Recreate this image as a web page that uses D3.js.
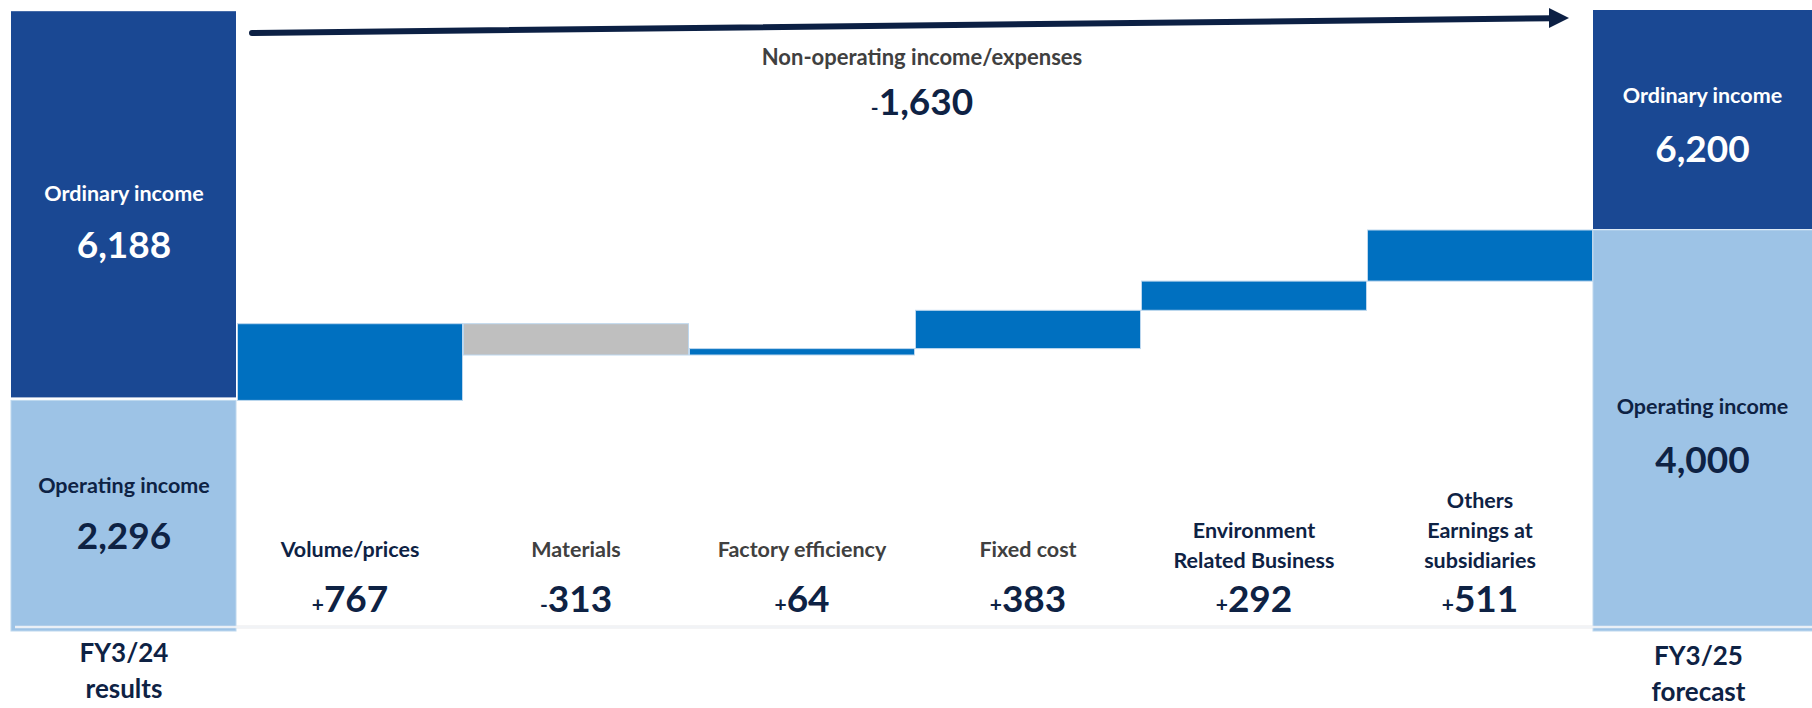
<!DOCTYPE html>
<html>
<head>
<meta charset="utf-8">
<script src="https://cdn.jsdelivr.net/npm/d3@7"></script>
<style>
  html, body { margin: 0; padding: 0; background: #ffffff; }
  svg { display: block; font-family: Lato, "Open Sans", "Liberation Sans", sans-serif; font-weight: 700; }
</style>
</head>
<body>
<svg id="chart" width="1812" height="708"></svg>
<script>
// ---- data ----
const periods = ["FY3/24 results", "FY3/25 forecast"];
const operatingIncome = [2296, 4000];
const ordinaryIncome = [6188, 6200];

const stepNames = [
  ["Volume/prices"],
  ["Materials"],
  ["Factory efficiency"],
  ["Fixed cost"],
  ["Environment", "Related Business"],
  ["Others", "Earnings at", "subsidiaries"]
];
const stepValues = [767, -313, 64, 383, 292, 511];

const nonOperatingLabel = "Non-operating income/expenses";
const nonOperatingValue = -1630;

// ---- styling ----
const C = {
  dark: "#1a4893",
  light: "#9dc3e6",
  up: "#0070c0",
  down: "#bfbfbf",
  edge: "#bdd7ee",
  navy: "#0e2244",
  grey: "#404040",
  arrow: "#0c2044",
  base: "#ececec"
};
const mutedSteps = new Set(["Materials", "Factory efficiency", "Fixed cost"]);

const W = 1812, H = 708;
const svg = d3.select("#chart");

// one band per column: start total, six drivers, end total
const columns = ["start", ...stepNames.map(d => d.join(" ")), "end"];
const x = d3.scaleBand().domain(columns).range([11, 11 + 226 * columns.length]).padding(0);
const y = d3.scaleLinear().domain([0, 4000]).range([630, 230]);

const fmt = d3.format(",");
const cx = k => {
  const x0 = x(k), x1 = Math.min(x0 + x.bandwidth(), W);
  return (x0 + x1) / 2;
};

// waterfall segments
let run = operatingIncome[0];
const steps = stepValues.map((v, i) => {
  const s = { key: columns[i + 1], lines: stepNames[i], value: v, from: run, to: run + v };
  run += v;
  return s;
});

// baseline rule
svg.append("line")
  .attr("x1", 15).attr("x2", W)
  .attr("y1", y(0) - 3).attr("y2", y(0) - 3)
  .attr("stroke", C.base).attr("stroke-width", 3);

// totals: operating (light) and ordinary (dark)
const totals = periods.map((p, i) => ({
  key: i === 0 ? "start" : "end",
  label: p.split(" "),
  op: operatingIncome[i],
  ord: ordinaryIncome[i]
}));

const gT = svg.append("g");
gT.selectAll("rect.op").data(totals).join("rect")
  .attr("class", "op")
  .attr("x", d => x(d.key))
  .attr("width", x.bandwidth() - 1)
  .attr("y", d => y(d.op))
  .attr("height", d => y(0) - y(d.op) + 1)
  .attr("fill", C.light)
  .attr("stroke", C.edge).attr("stroke-width", 1);

gT.selectAll("rect.ord").data(totals).join("rect")
  .attr("class", "ord")
  .attr("x", d => x(d.key))
  .attr("width", x.bandwidth() - 1)
  .attr("y", d => y(d.ord))
  .attr("height", d => y(d.op) - y(d.ord) - (d.key === "start" ? 3 : 1))
  .attr("fill", C.dark);

// the rule shows through the light bars
svg.append("line")
  .attr("x1", 15).attr("x2", W)
  .attr("y1", y(0) - 3).attr("y2", y(0) - 3)
  .attr("stroke", "#f2f4f7").attr("stroke-width", 2.5)
  .attr("stroke-opacity", 0.9);

// driver bars
svg.append("g").selectAll("rect").data(steps).join("rect")
  .attr("x", d => x(d.key) + 0.5)
  .attr("width", x.bandwidth() - 1)
  .attr("y", d => y(Math.max(d.from, d.to)))
  .attr("height", d => Math.abs(y(d.from) - y(d.to)))
  .attr("fill", d => d.value >= 0 ? C.up : C.down)
  .attr("stroke", C.edge).attr("stroke-width", 1);

// total labels
const totalText = [
  { key: "start", ordY: 201, ordNumY: 258, opY: 493, opNumY: 549, yearY: [662, 698] },
  { key: "end",   ordY: 103, ordNumY: 162, opY: 414, opNumY: 473, yearY: [665, 701] }
];
totals.forEach((t, i) => {
  const L = totalText[i];
  const g = svg.append("g").attr("text-anchor", "middle");
  const mx = cx(t.key);
  g.append("text").attr("x", mx).attr("y", L.ordY).attr("fill", "#ffffff")
    .attr("font-size", 21.5).text("Ordinary income");
  g.append("text").attr("x", mx).attr("y", L.ordNumY).attr("fill", "#ffffff")
    .attr("font-size", 37).text(fmt(t.ord));
  g.append("text").attr("x", mx).attr("y", L.opY).attr("fill", C.navy)
    .attr("font-size", 21.5).text("Operating income");
  g.append("text").attr("x", mx).attr("y", L.opNumY).attr("fill", C.navy)
    .attr("font-size", 37).text(fmt(t.op));
  t.label.forEach((line, j) => {
    g.append("text").attr("x", mx - (i === 1 ? 4 : 0)).attr("y", L.yearY[j]).attr("fill", C.navy)
      .attr("font-size", 26).text(line);
  });
});

// driver labels
const gL = svg.append("g").attr("text-anchor", "middle");
steps.forEach(s => {
  const mx = cx(s.key);
  const n = s.lines.length;
  const color = mutedSteps.has(s.key) ? C.grey : C.navy;
  s.lines.forEach((line, j) => {
    const baseY = n === 1 ? 557 : 568 - (n - 1 - j) * 30;
    gL.append("text").attr("x", mx).attr("y", baseY)
      .attr("fill", color).attr("font-size", 21.5).text(line);
  });
  const t = gL.append("text").attr("x", mx).attr("y", 612).attr("fill", C.navy);
  t.append("tspan").attr("font-size", 21).text(s.value >= 0 ? "+" : "-");
  t.append("tspan").attr("font-size", 37).text(fmt(Math.abs(s.value)));
});

// overall arrow across the drivers
const ax0 = x(columns[1]) + 15, ax1 = x("end") - 24;
const ay0 = 33, ay1 = 18;
svg.append("line")
  .attr("x1", ax0).attr("y1", ay0).attr("x2", ax1 - 16).attr("y2", ay1 + 0.2)
  .attr("stroke", C.arrow).attr("stroke-width", 6).attr("stroke-linecap", "round");
svg.append("path")
  .attr("d", `M${ax1 - 20},${ay1 - 10} L${ax1},${ay1} L${ax1 - 20},${ay1 + 10} Z`)
  .attr("fill", C.arrow);

// non-operating note
const nx = 922;
svg.append("text").attr("x", nx).attr("y", 65).attr("text-anchor", "middle")
  .attr("fill", C.grey).attr("font-size", 22).text(nonOperatingLabel);
const nt = svg.append("text").attr("x", nx).attr("y", 115).attr("text-anchor", "middle").attr("fill", C.navy);
nt.append("tspan").attr("font-size", 21).text(nonOperatingValue < 0 ? "-" : "+");
nt.append("tspan").attr("font-size", 37).text(fmt(Math.abs(nonOperatingValue)));
</script>
</body>
</html>
